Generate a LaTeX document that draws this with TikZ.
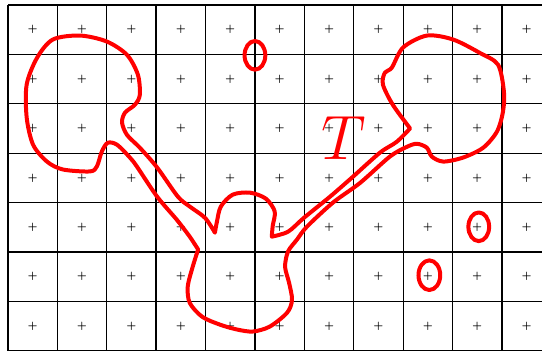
\documentclass[tikz,border=0pt]{standalone}
\usepackage{amsmath,amssymb}
\usepackage{xcolor}
\usepackage{tikz}

\begin{document}
\begin{tikzpicture}[
gridline/.style={line width=0.75pt},
plus/.style={font=\tiny\boldmath,inner sep=0pt},
curve/.style={red,line width=2.3pt,line join=round,line cap=round},
label/.style={red,font=\Huge,scale=1.45,inner sep=0pt}
]
\clip (-0.16,-0.01) rectangle (10.81,7.10);
\draw[gridline] (0,0) grid (11,7);
\foreach \i in {0,...,10}
  \foreach \j in {0,...,6}
    \node[plus] (p-\i-\j) at (\i+0.5,\j+0.5) {$+$};
% the set T
\draw[curve] plot[smooth] coordinates {(4.19,2.39) (4.23,2.61) (4.31,2.92) (4.55,3.16) (4.90,3.20) (5.22,3.08) (5.40,2.82) (5.36,2.53) (5.34,2.31)}
  -- plot[smooth] coordinates {(5.34,2.31) (5.67,2.41) (5.99,2.69) (6.52,3.12) (6.98,3.52) (7.53,4.01) (7.87,4.23) (8.14,4.50)}
  -- plot[smooth] coordinates {(8.14,4.50) (7.79,4.98) (7.59,5.39) (7.63,5.63) (7.77,5.73) (8.00,6.14) (8.48,6.38) (9.01,6.30) (9.55,6.03) (9.92,5.79) (10.04,5.24) (10.02,4.84) (9.90,4.44) (9.62,4.11) (9.21,3.91) (8.81,3.83) (8.58,3.93) (8.48,4.11) (8.28,4.19) (8.08,4.13) (7.73,3.93) (7.13,3.40) (6.58,3.00) (6.05,2.51) (5.85,2.25) (5.67,2.01) (5.61,1.70) (5.69,1.38) (5.75,1.03) (5.65,0.77) (5.30,0.49) (4.96,0.39) (4.64,0.43) (4.29,0.53) (3.93,0.69) (3.68,0.97) (3.64,1.30) (3.74,1.70) (3.85,2.05)}
  -- plot[smooth] coordinates {(3.85,2.05) (3.68,2.31) (3.42,2.65) (3.02,3.12) (2.61,3.73) (2.47,3.91) (2.21,4.17) (2.02,4.21) (1.90,4.03) (1.80,3.73) (1.66,3.63) (1.11,3.67) (0.79,3.83) (0.51,4.17) (0.38,4.72) (0.38,5.39) (0.59,5.93) (0.91,6.30) (1.46,6.38) (2.00,6.26) (2.41,5.99) (2.63,5.59) (2.67,5.18) (2.57,4.98) (2.37,4.82) (2.31,4.62) (2.41,4.37) (2.67,4.11) (3.02,3.71) (3.44,3.12) (3.68,2.92) (3.99,2.69) (4.19,2.39)} -- cycle;
\draw[curve] (5.00,5.98) ellipse (0.21 and 0.29);
\draw[curve] (9.53,2.51) ellipse (0.21 and 0.29);
\draw[curve] (8.53,1.53) ellipse (0.22 and 0.30);
\node[label] (T) at (6.80,4.31) {$T$};
\end{tikzpicture}
\end{document}
